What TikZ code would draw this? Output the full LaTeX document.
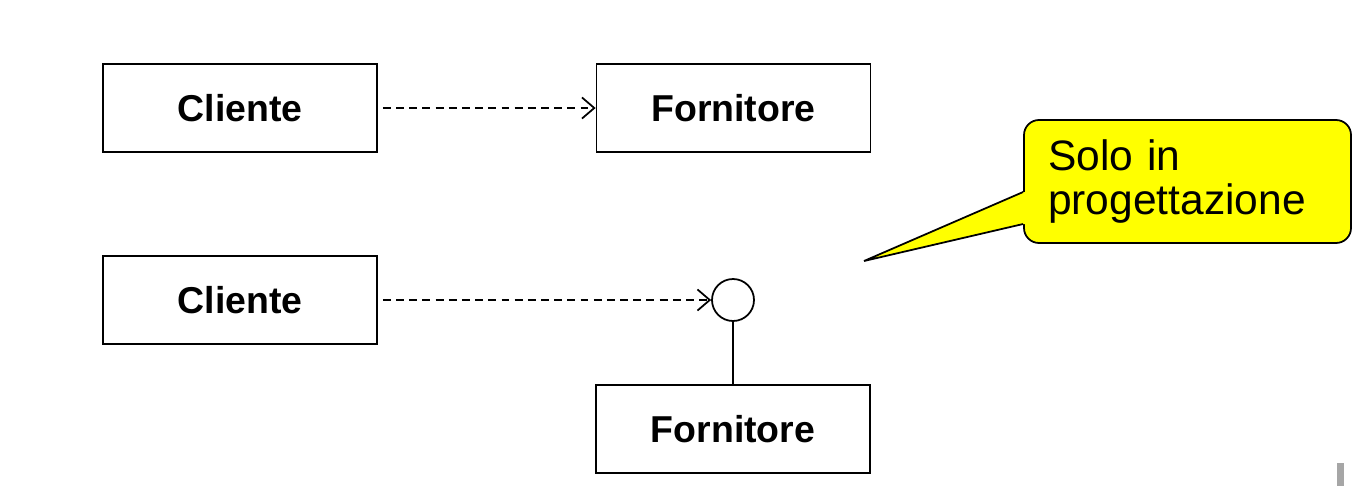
\documentclass[tikz,border=0pt]{standalone}
\usepackage{fontspec}
\setmainfont{Liberation Sans}
\usetikzlibrary{positioning, arrows.meta}
\definecolor{notefill}{RGB}{255,255,0}

\begin{document}
\begin{tikzpicture}[node distance=3cm,on grid,>={Straight Barb[length=7pt,width=12pt]},line width=1pt,
	class/.style={draw, minimum width=5.48cm, minimum height=1.76cm, font=\fontsize{21.3}{25}\selectfont\bfseries},
	iface/.style={draw, circle, minimum size=0.84cm, inner sep=0pt},
	note/.style={draw, fill=notefill, rounded corners=0.3cm, minimum width=6.54cm, minimum height=2.46cm, text width=5.58cm, inner xsep=0.48cm, align=left, font=\fontsize{24.2}{25.5}\selectfont},
	dep/.style={->, dash pattern=on 4.5pt off 3pt, shorten <=0.1cm}]

\useasboundingbox (-4.8,2.16) rectangle (22.48,-7.56);

% Class nodes
	\node (cliente_a)		[class]		{Cliente};
	\node (fornitore_a)		[class, right=9.87cm of cliente_a]		{Fornitore};

	\node (cliente_b)		[class, below=3.84cm of cliente_a]		{Cliente};
	\node (iface)			[iface, right=9.86cm of cliente_b]		{};
	\node (fornitore_b)		[class, below=2.58cm of iface]			{Fornitore};

% Note
	\node (tip)				[coordinate, above right=0.78cm and 2.62cm of iface]	{};
	\node (note)			[note, below right=1.47cm and 9.08cm of fornitore_a]	{Solo in\\progettazione};
	\coordinate (base_a)	at ([yshift=-0.21cm]note.west);
	\coordinate (base_b)	at ([yshift=-0.85cm]note.west);
	\fill[notefill] (base_a) -- (tip) -- (base_b) -- ([xshift=0.1cm]base_b) -- ([xshift=0.1cm]base_a) -- cycle;
	\draw (base_a) -- (tip) -- (base_b);

% Dependencies
	\path[dep]
		(cliente_a)		edge	(fornitore_a)
		(cliente_b)		edge	(iface)
	;
	\path (iface) edge (fornitore_b);

	\fill[gray!70] (21.94,-7.1) rectangle (22.08,-7.56);

\end{tikzpicture}
\end{document}
